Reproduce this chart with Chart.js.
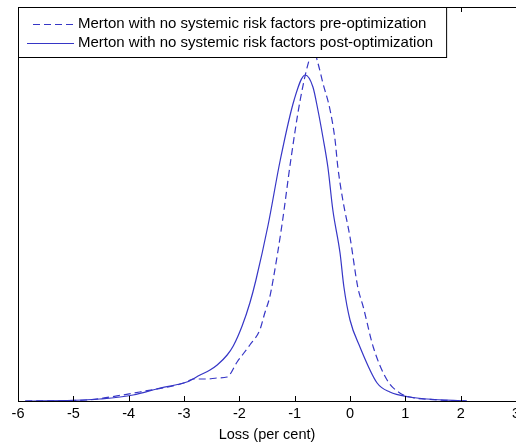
<!DOCTYPE html>
<html>
<head>
<meta charset="utf-8">
<script src="https://cdn.jsdelivr.net/npm/chart.js@4.4.1/dist/chart.umd.min.js"></script>
<style>
    html, body { margin: 0; padding: 0; background: #fff; overflow: hidden; }
    canvas { display: block; }
</style>
</head>
<body>
<canvas id="lossChart" width="540" height="444"></canvas>
<script>
// ===== DATOS =====
const xTicks = [-6, -5, -4, -3, -2, -1, 0, 1, 2, 3];

const preLabel = 'Merton with no systemic risk factors pre-optimization';
const preX = [-5.87, -4.75, -4.34, -3.80, -2.95, -2.84, -2.58, -2.40, -2.22, -2.04, -1.81, -1.63, -1.54, -1.45, -1.39, -1.23, -1.07, -0.90, -0.72, -0.65, -0.58, -0.49, -0.36, -0.27, -0.22, -0.13, 0.00, 0.14, 0.24, 0.42, 0.67, 0.90, 1.08, 1.63, 2.11];
const preY = [0, 1, 4, 9, 19, 22, 22, 23, 24, 39, 56, 71, 88, 104, 121, 176, 241, 301, 344, 350, 338, 318, 291, 261, 234, 201, 164, 114, 94, 54, 21, 8, 4, 1, 0];

const postLabel = 'Merton with no systemic risk factors post-optimization';
const postX = [-5.87, -4.83, -4.52, -3.92, -3.43, -2.95, -2.71, -2.53, -2.40, -2.22, -2.11, -1.95, -1.81, -1.70, -1.48, -1.26, -1.01, -0.81, -0.67, -0.58, -0.49, -0.40, -0.31, -0.18, -0.11, 0.00, 0.18, 0.49, 0.72, 1.08, 1.39, 2.11];
const postY = [0, 1, 2, 6, 13, 19, 26, 31, 36, 46, 55, 75, 98, 121, 176, 241, 301, 326, 314, 291, 264, 234, 191, 148, 114, 81, 54, 18, 9, 4, 2, 0];

const lineColor = '#3636c6';
const fontFamily = '"Liberation Sans", Arial, sans-serif';
const fontSize = 14.5;
const legendFontSize = 15;

const toPoints = (xs, ys) => xs.map((x, i) => ({ x: x, y: ys[i] }));

// ===== MARCO, TICKS HACIA DENTRO Y LEYENDA =====
const boxPlugin = {
    id: 'boxPlugin',
    afterDraw(chart) {
        const { ctx, chartArea: a, scales } = chart;
        ctx.save();
        ctx.strokeStyle = '#000';
        ctx.lineWidth = 1;
        ctx.strokeRect(a.left + 0.5, a.top + 0.5, a.right - a.left, a.bottom - a.top);

        // ticks hacia dentro (abajo y arriba)
        ctx.beginPath();
        xTicks.forEach(v => {
            const px = Math.round(scales.x.getPixelForValue(v)) + 0.5;
            ctx.moveTo(px, a.bottom);
            ctx.lineTo(px, a.bottom - 5);
            ctx.moveTo(px, a.top);
            ctx.lineTo(px, a.top + 5);
        });
        ctx.stroke();

        // leyenda
        ctx.font = legendFontSize + 'px ' + fontFamily;
        const textX = a.left + 60;
        const w = Math.max(ctx.measureText(preLabel).width, ctx.measureText(postLabel).width);
        const boxW = textX - a.left + w + 13;
        const boxH = 50;
        ctx.fillStyle = '#fff';
        ctx.fillRect(a.left + 0.5, a.top + 0.5, boxW, boxH);
        ctx.strokeRect(a.left + 0.5, a.top + 0.5, boxW, boxH);

        ctx.strokeStyle = lineColor;
        ctx.setLineDash([7, 4]);
        ctx.beginPath();
        ctx.moveTo(a.left + 15, a.top + 17.5);
        ctx.lineTo(a.left + 56, a.top + 17.5);
        ctx.stroke();
        ctx.setLineDash([]);
        ctx.beginPath();
        ctx.moveTo(a.left + 9, a.top + 36.5);
        ctx.lineTo(a.left + 56, a.top + 36.5);
        ctx.stroke();

        ctx.fillStyle = '#000';
        ctx.textBaseline = 'middle';
        ctx.fillText(preLabel, textX, a.top + 17);
        ctx.fillText(postLabel, textX, a.top + 36);
        ctx.restore();
    }
};

// ===== GRÁFICO PÉRDIDAS =====
new Chart(document.getElementById('lossChart'), {
    type: 'line',
    data: {
        datasets: [{
            label: preLabel,
            data: toPoints(preX, preY),
            borderColor: lineColor,
            borderWidth: 1.2,
            borderDash: [7, 4],
            pointRadius: 0,
            cubicInterpolationMode: 'monotone',
            fill: false
        }, {
            label: postLabel,
            data: toPoints(postX, postY),
            borderColor: lineColor,
            borderWidth: 1.2,
            pointRadius: 0,
            cubicInterpolationMode: 'monotone',
            fill: false
        }]
    },
    options: {
        responsive: false,
        animation: false,
        layout: { padding: { left: 18, top: 7, right: 24, bottom: 0 } },
        plugins: {
            legend: { display: false },
            tooltip: { enabled: false }
        },
        scales: {
            x: {
                type: 'linear',
                min: -6,
                max: 3,
                afterBuildTicks: (scale) => {
                    scale.ticks = xTicks.map(v => ({ value: v }));
                },
                grid: { display: false, drawTicks: false, tickLength: 0 },
                border: { display: false },
                ticks: {
                    color: '#000',
                    padding: 6,
                    maxRotation: 0,
                    font: { family: fontFamily, size: fontSize, lineHeight: 1 }
                },
                title: {
                    display: true,
                    text: 'Loss (per cent)',
                    color: '#000',
                    padding: { top: 0, bottom: 2 },
                    font: { family: fontFamily, size: fontSize, lineHeight: 1 }
                }
            },
            y: {
                display: false,
                min: 0,
                max: 394
            }
        }
    },
    plugins: [boxPlugin]
});
</script>
</body>
</html>
